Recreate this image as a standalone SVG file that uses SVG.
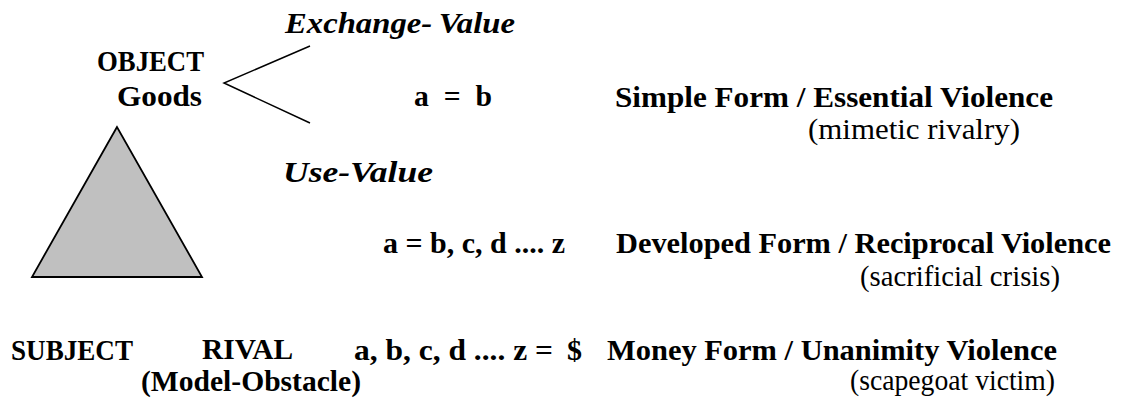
<svg xmlns="http://www.w3.org/2000/svg" width="1121" height="403" viewBox="0 0 1121 403">
<style>
.b{font-weight:bold;font-size:30px}
.bi{font-weight:bold;font-style:italic;font-size:30px}
.r{font-weight:normal;font-size:29px}
.ln{stroke:#000;stroke-width:1.5;fill:none}
</style>
<rect width="1121" height="403" fill="#fff"/>
<g id="connectors">
<polyline class="ln" points="310,46 224,83 310,123"/>
</g>
<g id="triangle">
<polygon points="117,127 32,277 202,277" fill="#c0c0c0" stroke="#000" stroke-width="1.8"/>
</g>
<g font-family="Liberation Serif, Times New Roman, serif" fill="#000">
<g id="object">
<text class="b" x="97" y="71" textLength="107" lengthAdjust="spacingAndGlyphs">OBJECT</text>
<text class="b" x="117" y="106" textLength="85" lengthAdjust="spacingAndGlyphs">Goods</text>
</g>
<g id="exchange-value">
<text class="bi" x="285" y="33" textLength="230" lengthAdjust="spacingAndGlyphs">Exchange-<tspan dx="6">Value</tspan></text>
</g>
<g id="use-value">
<text class="bi" x="283" y="182" textLength="150" lengthAdjust="spacingAndGlyphs">Use-Value</text>
</g>
<g id="simple">
<text class="b" x="414" y="106" textLength="78" lengthAdjust="spacingAndGlyphs" xml:space="preserve">a  =  b</text>
<text class="b" x="615" y="107" textLength="438" lengthAdjust="spacingAndGlyphs">Simple Form / Essential Violence</text>
<text class="r" x="808" y="139" textLength="212" lengthAdjust="spacingAndGlyphs">(mimetic rivalry)</text>
</g>
<g id="developed">
<text class="b" x="383" y="253" textLength="182" lengthAdjust="spacingAndGlyphs">a = b, c, d .... z</text>
<text class="b" x="616" y="253" textLength="495" lengthAdjust="spacingAndGlyphs">Developed Form / Reciprocal Violence</text>
<text class="r" x="860" y="286" textLength="200" lengthAdjust="spacingAndGlyphs">(sacrificial crisis)</text>
</g>
<g id="subject">
<text class="b" x="11" y="360" textLength="122" lengthAdjust="spacingAndGlyphs">SUBJECT</text>
</g>
<g id="rival">
<text class="b" x="202" y="359" textLength="91" lengthAdjust="spacingAndGlyphs">RIVAL</text>
<text class="b" x="141" y="391" textLength="220" lengthAdjust="spacingAndGlyphs">(Model-Obstacle)</text>
</g>
<g id="money">
<text class="b" x="354" y="360" textLength="199" lengthAdjust="spacingAndGlyphs">a, b, c, d .... z =</text>
<text class="b" x="567" y="360">$</text>
<text class="b" x="607" y="360" textLength="450" lengthAdjust="spacingAndGlyphs">Money Form / Unanimity Violence</text>
<text class="r" x="850" y="390" textLength="205" lengthAdjust="spacingAndGlyphs">(scapegoat victim)</text>
</g>
</g>
</svg>
